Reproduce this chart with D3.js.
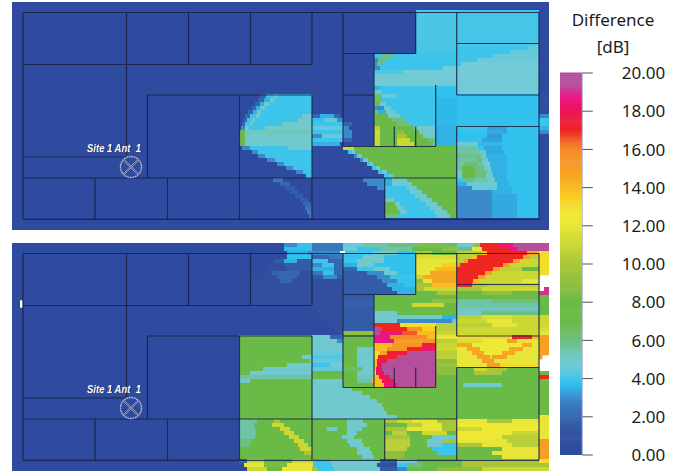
<!DOCTYPE html>
<html><head><meta charset="utf-8">
<style>html,body{margin:0;padding:0;background:#fff}svg{display:block}</style>
<script src="https://cdn.jsdelivr.net/npm/d3@7"></script></head>
<body><svg id="c" width="684" height="472"></svg>
<script>
// Colour ramp of the dB legend
const rampValues=[0,1,2,3,3.7,4,4.7,5,6,7,8,9,10,11,12,12.6,13.5,14.5,16,16.5,17,18,18.7,19.3,20];
const rampColors=["#2e4c9f","#30509f","#3566ae","#3a8ac9","#2dc1ef","#3cc4ea","#72cbd8","#70c9cc","#6dbf7f","#6aba4a","#6cba44","#8ec03f","#a9c63a","#cbd733","#e6e538","#f0ea36","#f8cd1f","#f7a823","#f58a2a","#f05a28","#ee2524","#ec1654","#e91388","#b9509d","#b24f9c"];
const legendTicks=[0,2,4,6,8,10,12,14,16,18,20];
const legendTitle=["Difference","[dB]"];
const siteLabel="Site 1 Ant  1";
// Building walls in map units: x1,y1,x2,y2
const walls=[[11,10.5,527,10.5],[11,217.3,527,217.3],[11,10.5,11,217.3],[527,10.5,527,217.3],[114.5,10.5,114.5,155],[11,62.5,300,62.5],[176.5,10.5,176.5,62.5],[238.5,10.5,238.5,62.5],[300,10.5,300,62.5],[135.5,93,300,93],[135.5,93,135.5,176],[227.5,93,227.5,217.3],[300,93,300,217.3],[11,176,444.7,176],[11,155,114,155],[83,176,83,217.3],[155.5,176,155.5,217.3],[331,10.5,331,144.5],[331,51.5,403.7,51.5],[403.7,10.5,403.7,51.5],[362,51.5,362,144.5],[331,93,362,93],[331,144.5,423.7,144.5],[423.7,83,423.7,144.5],[382.3,124.5,382.3,144.5],[403.7,124.5,403.7,144.5],[444.7,10.5,444.7,93],[444.7,124.5,444.7,217.3],[444.7,41.5,527,41.5],[444.7,93,527,93],[444.7,124.5,527,124.5],[372.7,176,372.7,217.3]];
// Small missing-data marks of the lower map, in map units: x1,y1,x2,y2
const lowerGaps=[[8,57.3,10.7,64.7],[328,8,333,10.3]];
// Heat-map rows, each "dB:endColumn" runs; "-" means no data
const upperRows=[
"0:537","0:537",
"0:404 4.2:445 4:527 0:537",
"0:404 4.2:445 4.1:527 0:537","0:404 4.2:445 4.1:527 0:537","0:404 4.2:445 4.1:527 0:537","0:404 4.2:445 4.1:527 0:537","0:404 4.2:445 4.1:527 0:537","0:404 4.2:445 4.1:527 0:537","0:404 4.2:445 4.1:527 0:537","0:404 4.2:445 4.1:527 0:537",
"0:404 4.1:445 4:515 4.5:527 0:537",
"0:404 4.1:445 4:498 4.5:527 0:537",
"0:362 4:370 6:381 4:481 4.6:527 0:537",
"0:362 3:366 6:375 4:465 4.6:527 0:537",
"0:362 3:365 6:370 4:449 4.7:527 0:537",
"0:362 3:368 4:431 4.7:527 0:537",
"0:362 4.2:391 4.7:527 0:537",
"0:362 4.8:527 0:537","0:362 4.8:527 0:537","0:362 4.8:527 0:537",
"0:362 3.5:368 4:424 3.8:445 4.7:527 0:537",
"0:362 5:370 4:424 3.8:445 4.7:527 0:537",
"0:248 2:254 4:262 5:266 4:300 0:362 6:370 4.5:385 4:424 3.7:527 1:537",
"0:246 2:252 3.5:258 5:262 4:300 0:362 6.5:370 4:424 3.6:445 3.8:527 1:537",
"0:243 2:248 3.5:252 5:257 4:300 0:362 7:368 5:374 4:424 3.6:445 3.8:527 1:537",
"0:240 2:244 3.5:248 5:253 4:300 0:362 3:372 5:379 4:424 3.6:445 3.8:527 0.5:537",
"0:236 2:241 3.5:245 5:249 4:300 0:362 6:366 3.5:374 5:384 4:424 3.6:445 3.8:527 0.5:537",
"0:233 2:238 4:244 5:248 4:290 5:300 2:308 3.5:322 2:328 0:362 7:376 5:388 4:424 3.6:445 3.8:527 3:537",
"0:232 2:235 4:240 5:243 4:286 5:300 3.8:312 4.5:325 3:331 0:362 7.5:380 6:393 4:424 3.6:445 3.8:527 4:537",
"0:230 2:233 4:238 5:241 4:270 5:300 4:331 2:340 0:362 8:385 6:397 4:424 3.6:445 3.8:527 4:537",
"0:229 3:233 5:237 4:253 5:300 4.5:331 3:337 0:362 10.5:368 7.5:402 5:424 3.5:445 4:475 3.3:495 3.8:527 3.5:537",
"0:228 7:233 4.5:236 5.2:300 4:331 3:340 0:362 11:368 7.5:385 9:392 7:407 5:424 3.5:445 3.8:475 3.4:495 3.8:527 3:537",
"0:227 7.5:233 5:300 3:310 4.5:331 3:340 0:362 11:368 7.5:385 10:395 8:411 5:424 3.5:445 3.7:475 3.2:490 3.8:527 0:537",
"0:227 7.5:233 5:300 4:331 2:340 0:362 11:368 8:385 11:398 8:416 6:424 3.5:445 3.8:470 3.3:490 3.8:527 0:537",
"0:227 7.5:233 5:300 3.5:328 0:362 11:368 8:385 11:402 8:421 5.5:424 3.5:445 4.6:466 3.6:490 3.8:527 0:537",
"0:230 3:238 4:276 5:300 0:331 11:342 7.5:445 5.5:466 4:472 3.4:490 3.8:527 0:537",
"0:240 3:246 4:300 0:336 4:340 5:343 7.5:445 5.5:468 4.5:474 3.4:492 3.8:527 0:537",
"0:246 3:253 4:300 0:342 3:345 5:350 7.5:445 5.8:469 5:474 3.5:495 3.8:527 0:537",
"0:255 3:263 4:300 0:348 3:351 5:356 7.5:445 5.5:464 6:470 5:476 3.5:495 3.8:527 0:537",
"0:265 3:272 4:300 0:355 4:358 5:361 7.5:445 5.5:452 6.3:465 5.5:472 4.8:478 3.5:495 3.8:527 0:537",
"0:274 3:281 4:300 0:360 4:364 5:368 7.5:445 5.5:450 7:462 6:472 5:479 3.5:495 3.8:527 0:537",
"0:284 3:291 4:300 0:366 4:370 5:375 7.5:445 5:450 7.5:463 6:475 5:480 3.5:495 3.8:527 0:537",
"0:294 4:300 0:372 4:377 5:381 7.5:445 5:450 7.5:463 6:474 5:481 3.5:495 3.8:527 0:537",
"0:261 2.5:271 0:351 3:373 3.5:380 5:395 7.5:445 4:452 6:462 5.5:476 5:483 3.5:495 3.8:527 0:537",
"0:268 2:278 0:355 3:373 3.5:380 5:400 7.5:445 3.5:455 5:485 3.5:497 3.8:527 0:537",
"0:273 1.6:283 0:365 3:373 4:395 5:405 7.5:445 3:460 4.5:485 3.5:500 3.8:527 0:537",
"0:278 1.6:286 0:373 4:398 5:410 7.5:445 3:480 3.5:500 3.8:527 0:537",
"0:283 1.6:291 0:373 4:403 5:415 7.5:445 3:480 3.4:505 3.8:527 0:537",
"0:288 1.7:296 0:373 5:382 4:408 5:420 7.5:445 3:480 3.4:505 3.8:527 0:537",
"0:291 2:300 0:373 7:383 5:388 4:414 5:425 7.5:445 3:480 3.4:505 3.8:527 0:537",
"0:293 2.4:300 0:373 7:385 5:392 4:418 5:430 7.5:445 3:480 3.4:505 3.8:527 0:537",
"0:295 2.6:300 1:305 0:373 7:388 5:395 4:422 5:435 7.5:445 3:480 3.4:505 3.8:527 0:537",
"0:297 2.4:300 0:373 6:385 4:425 5:438 7.5:445 3:480 3.4:505 3.8:527 0:537",
"0:537","0:537","0:537"];
const lowerRows=[
"0:272 3:285 3.8:300 2.5:331 4.5:352 5.5:375 6:405 8.5:430 6.5:445 5:462 9:468 17:488 18.5:501 19.8:537",
"0:272 3.7:300 2.5:331 5:345 4:368 5.5:400 7.5:430 9:445 6:460 12:470 17:497 18.5:505 19.8:527 19.5:537",
"0:275 3.5:296 3:331 4:360 5:385 3.8:404 10:420 8:445 10.5:470 14:475 17:515 14.5:527 13:537",
"0:275 3.8:300 2:318 2.5:331 3.8:350 5:372 3.8:404 11.5:445 10.5:460 14:465 17:511 15:518 10.5:527 13:537",
"0:262 1.5:272 3.5:285 1.5:300 4:316 2:331 4:345 5:372 3.8:404 12:445 10.5:452 15:456 17:501 15:508 11:527 13:537",
"0:255 1:272 1.5:300 3:310 4:322 2:331 3.5:345 5:362 3.8:404 12:430 13.5:445 15:448 17:491 15:498 11:527 13:537",
"0:255 1:275 1.5:300 3.5:322 2:331 2:345 4:362 5:378 3.8:404 12:423 14:445 17:481 15:488 10.5:510 8:527 13:537",
"0:255 1:260 2:288 1:300 2.5:311 3.8:322 2:331 1.5:355 3:372 5:385 3.8:404 12:418 14.5:445 17:473 15:480 11:527 13:537",
"0:250 1:265 2:285 1:300 1.5:311 3:325 1.5:331 1.5:365 3:378 4:404 11:411 14.5:445 17:466 15:473 11:527 -:537",
"0:238 1:268 2:280 1:300 1:331 1.5:370 3:385 3.8:404 9:411 12:420 14.5:445 17:461 14:468 11:510 12:527 -:537",
"0:238 1:300 0.8:331 1.5:375 3.5:392 3.8:404 10:420 14:445 17:460 10:475 10.5:527 -:537",
"0:238 1:300 1:331 1.5:380 3.5:404 10:412 11:445 10:470 11:527 -:532 19:537",
"0:238 1:300 1:331 1.5:385 3.5:402 7.5:425 10:445 7.5:470 9:500 8:527 19:537",
"0:238 1:300 1:331 1.5:362 7.5:415 8:445 7.5:527 7:537",
"0:238 1:300 1:331 1.7:362 7.5:420 9:445 5.5:480 6:527 7:537",
"0:238 1:300 0.8:331 1.7:362 7.5:400 11:432 7.5:445 5.5:527 7:537",
"0:300 1:331 1.5:362 7:400 8:445 5.2:527 7:537",
"0:305 1:331 1.5:362 5:385 7:418 7.5:445 5:470 6:527 7:537",
"0:310 1:331 1.5:362 5:430 3.5:445 10.5:470 11.5:500 11:527 11:537",
"0:315 1:331 1.5:362 5:385 3:440 5:445 11:475 12:500 11:527 11:537",
"0:318 1:331 1.5:362 17:388 13:424 10.5:480 12:505 11:527 11:537",
"0:322 1:331 1.5:362 19.5:370 17:395 15.5:410 13.5:424 10.5:445 11:527 11.5:537",
"0:325 1:331 9:362 19.5:368 18.5:390 16.5:405 14:424 11:445 11:527 12:537",
"0:227 7.5:300 5:318 2:331 7.5:362 18.7:378 16:415 14:424 12:445 13:500 17:520 14:527 15:537",
"0:227 7.5:300 5:325 3:331 7.5:362 18.7:382 15:411 15.5:424 10.5:445 11.5:470 12.5:495 15:505 12:527 15:537",
"0:227 7.5:300 5:331 7.5:362 14:380 15.5:410 17.5:424 11:445 14.5:460 12.5:510 14.5:520 12:527 15:537",
"0:227 7.5:300 4.8:331 7:345 5:362 14:375 15.5:395 17:410 18.5:424 11:445 12:455 14.5:468 12.5:497 14.5:511 12:527 15:537",
"0:227 7.5:300 4.5:331 7:345 5:362 13:368 15:375 17.5:395 19.5:424 10.5:445 12:460 14.5:472 12.5:490 14.5:503 12:527 15:537",
"0:227 7.5:290 5:300 4.3:331 7:345 5:362 13:366 17:385 19.8:424 10.5:445 12:465 15:478 13:480 15:495 12:527 15:530 -:537",
"0:227 7.5:298 5:300 4.5:331 7:345 5:362 14:365 18:375 19.8:424 9:445 12:470 15:482 12:527 -:537",
"0:227 7.5:275 5:300 4:318 4.8:331 7:345 5:362 14:365 18:370 19.8:424 9.5:445 12:475 15:488 13:527 -:537",
"0:227 7.5:251 5:300 4.5:331 6.5:350 5:362 14:364 18:370 19.8:424 9:445 7.5:462 11:475 10:495 7.5:527 -:537",
"0:227 7.5:238 5:300 7:331 7.5:345 5:362 13:364 18:372 19.8:424 9:445 7.5:462 10:490 7.5:527 8:537",
"0:227 5.5:300 7.5:345 5.2:362 14:367 18:378 19.8:424 8:445 7.5:527 17:537",
"0:227 5:238 7.5:300 5:331 7.5:345 5.5:360 14:370 18:382 19.8:424 8:445 7.5:527 8:537",
"0:227 7.5:300 5:331 7.5:362 14:372 18.5:385 19.8:424 7.5:451 5:490 7.5:527 8:537",
"0:227 7.5:300 5:340 7.5:527 8:537",
"0:227 7.5:300 5:350 7.5:527 8:537",
"0:227 7.5:300 5:358 7.5:527 8:537",
"0:227 7.5:300 5:365 7.5:527 8:537",
"0:227 7.5:300 5:370 7.5:527 8:537",
"0:227 7.5:300 5:372 7.5:527 8:537",
"0:227 7.5:300 5:375 7.5:527 8:537",
"0:227 7.5:300 5:385 7.5:527 12:537",
"0:227 5.5:245 7.5:262 10:268 7.5:335 5:351 7.5:373 10:385 11:400 12:425 10:445 12:475 10:500 12:527 12:537",
"0:227 5.5:242 7:260 11:272 7.5:335 5:355 7.5:395 10.5:410 12:430 10:445 12.5:527 12:537",
"0:227 5.5:243 7.5:268 11:278 7.5:300 8:315 5:325 7:335 5:350 7:373 10:395 12:430 10:445 11:470 12.5:527 12:537",
"0:227 5.5:244 7.5:272 11:282 7.5:300 7:335 5:345 7:380 10.5:395 7.5:410 11:435 7.5:445 12.5:500 11:527 12:537",
"0:227 5.5:243 7.5:277 11:287 7.5:330 5:342 7.5:373 10:398 7.5:420 5:445 12.5:490 10.5:527 12:537",
"0:227 6:240 7.5:282 11:292 7.5:335 5:350 7.5:373 10.5:398 7.5:415 5:431 10:445 12:495 10.5:527 15:537",
"0:227 6:238 7.5:286 11:296 8:300 7.5:338 5:352 7.5:373 10.5:398 7.5:415 5:430 4:445 10:470 12:500 10.5:527 15:537",
"0:227 7.5:288 11:300 7.5:345 5:358 7.5:373 10.5:395 7.5:420 4:445 7.5:490 12:527 15:537",
"0:227 7.5:292 10:300 7.5:345 5:360 7.5:373 9:392 7.5:425 4:445 8:480 12:527 15:537",
"0:227 7.5:350 5:362 7.5:373 9:392 7.5:445 8:490 12:527 15:537",
"0:227 2:235 11:252 8:280 11:301 4:318 5:368 1.5:385 5:405 7.5:450 10:527 13:537",
"0:232 12:252 8.5:275 12:301 4:320 5:365 1:385 4:395 6:410 8:450 10:537",
"0:235 11:255 8:270 12:300 10:305 4:322 5:368 1.5:385 3:395 7:425 9:470 11:537"];

const mapW=537,mapH=228,rowH=4;
const svg=d3.select("#c");
const x=d3.scaleLinear().domain([0,mapW]).range([12,549]);
const color=d3.scaleLinear().domain(rampValues).range(rampColors).interpolate(d3.interpolateRgb);
const defs=svg.append("defs");
defs.append("filter").attr("id","soft").attr("x","-2%").attr("y","-2%").attr("width","104%").attr("height","104%")
  .append("feGaussianBlur").attr("stdDeviation",0.7);

function parseRuns(row,r){
  let start=0;
  return row.split(" ").map(tok=>{
    const [v,end]=tok.split(":");
    const run={row:r,v:v==="-"?null:+v,x0:start,x1:+end};
    start=+end;return run;
  });
}
function drawPanel(rows,top,id,gaps){
  const y=d3.scaleLinear().domain([0,mapH]).range([top,top+mapH]);
  defs.append("clipPath").attr("id",id).append("rect")
    .attr("x",x(0)).attr("y",y(0)).attr("width",x(mapW)-x(0)).attr("height",y(mapH)-y(0));
  const g=svg.append("g").attr("clip-path",`url(#${id})`);
  g.append("g").attr("filter","url(#soft)").selectAll("rect")
    .data(rows.flatMap(parseRuns).filter(d=>d.v!==null)).join("rect")
    .attr("x",d=>x(d.x0)).attr("width",d=>x(d.x1)-x(d.x0)+.4)
    .attr("y",d=>y(d.row*rowH)).attr("height",rowH+.4)
    .attr("fill",d=>color(d.v));
  g.append("g").selectAll("rect").data(gaps).join("rect")
    .attr("x",d=>x(d[0])).attr("y",d=>y(d[1]))
    .attr("width",d=>x(d[2])-x(d[0])).attr("height",d=>y(d[3])-y(d[1])).attr("fill","#fff");
  g.append("g").selectAll("line").data(walls).join("line")
    .attr("x1",d=>x(d[0])).attr("y1",d=>y(d[1])).attr("x2",d=>x(d[2])).attr("y2",d=>y(d[3]))
    .attr("stroke","#1a2347").attr("stroke-opacity",.88).attr("stroke-width",1.2);
  // antenna symbol and label
  const ax=x(119),ay=y(165),r=10.5,k=r*.68;
  const a=svg.append("g");
  a.append("circle").attr("cx",ax).attr("cy",ay).attr("r",r).attr("fill","none")
    .attr("stroke","#b4b8c6").attr("stroke-width",1.4).attr("stroke-dasharray","2 .6");
  [[-k,-k,k,k],[-k,k,k,-k]].forEach(s=>{
    a.append("line").attr("x1",ax+s[0]).attr("y1",ay+s[1]).attr("x2",ax+s[2]).attr("y2",ay+s[3])
      .attr("stroke","#aeb3c4").attr("stroke-width",1.7);
    a.append("line").attr("x1",ax+s[0]).attr("y1",ay+s[1]).attr("x2",ax+s[2]).attr("y2",ay+s[3])
      .attr("stroke","#1f2f70").attr("stroke-width",.7);
  });
  [["#10183c",.9,.7],["#fff",0,0]].forEach(t=>{
    a.append("text").attr("x",x(75)+t[1]).attr("y",y(149.7)+t[2])
      .attr("xml:space","preserve").style("white-space","pre")
      .attr("font-family","Liberation Sans").attr("font-style","italic").attr("font-weight","bold").attr("font-size",11)
      .attr("textLength",54).attr("lengthAdjust","spacingAndGlyphs")
      .attr("fill",t[0]).text(siteLabel);
  });
}
drawPanel(upperRows,2,"clipU",[]);
drawPanel(lowerRows,243,"clipL",lowerGaps);

// Legend
const ly=d3.scaleLinear().domain([0,20]).range([454.5,72.5]);
const steps=d3.range(0,20,0.1);
svg.append("g").selectAll("rect").data(steps).join("rect")
  .attr("x",560).attr("width",22.3)
  .attr("y",d=>ly(d+0.1)).attr("height",d=>ly(d)-ly(d+0.1)+.5)
  .attr("fill",d=>color(d+0.05));
const axis=svg.append("g").attr("transform","translate(582.3,0)")
  .call(d3.axisRight(ly).tickValues(legendTicks).tickFormat(d3.format(".2f")).tickSize(10.5));
axis.select(".domain").attr("stroke","#b7bcdc").attr("stroke-width",1).attr("d",`M0,${ly(20)}V${ly(0)}`);
axis.selectAll(".tick line").attr("stroke","#555").attr("stroke-width",1);
axis.selectAll(".tick text").attr("x",83).attr("text-anchor","end").attr("dy","0.36em")
  .attr("font-family","Noto Sans").attr("font-size",17).attr("fill","#1c1c1c");
svg.append("g").selectAll("text").data(legendTitle).join("text")
  .attr("x",613).attr("y",(d,i)=>26+i*27).attr("text-anchor","middle")
  .attr("font-family","Noto Sans").attr("font-size",17).attr("fill","#1c1c1c").text(d=>d);
</script></body></html>
